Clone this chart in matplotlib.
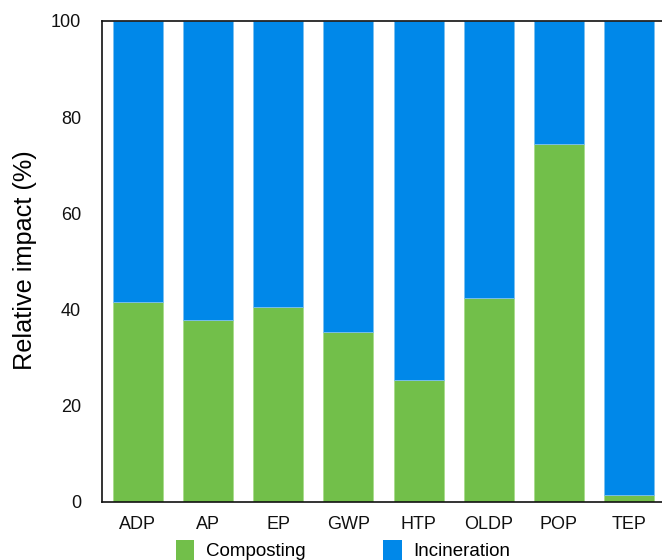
import matplotlib
matplotlib.use("Agg")
import matplotlib.pyplot as plt
from matplotlib.patches import Patch

categories = ["ADP", "AP", "EP", "GWP", "HTP", "OLDP", "POP", "TEP"]
composting = [41.6, 37.8, 40.6, 35.4, 25.4, 42.5, 74.4, 1.5]
incineration = [100 - c for c in composting]
yticks = [0, 20, 40, 60, 80, 100]

green = "#72bf4a"
blue = "#0088e9"

plt.rcParams['font.family'] = ['Liberation Sans', 'DejaVu Sans']

fig = plt.figure(figsize=(6.62, 5.60), dpi=100)
ax = fig.add_axes([102/662, 58/560, 563/662, 481/560])

x = list(range(len(categories)))
ax.bar(x, composting, width=0.71, color=green, edgecolor="#a8dc8c", linewidth=0.6)
ax.bar(x, incineration, bottom=composting, width=0.71, color=blue, edgecolor="#7cc0f0", linewidth=0.6)

ax.set_xlim(-0.51, 7.51)
ax.set_ylim(0, 100)
ax.set_yticks(yticks)
ax.set_xticks(x)
ax.set_xticklabels(categories)
ax.tick_params(axis='both', length=0, labelsize=13, colors="#111111")
ax.tick_params(axis='y', pad=15)
ax.tick_params(axis='x', pad=10)
ax.set_ylabel("Relative impact (%)", fontsize=18.2)
ax.yaxis.set_label_coords(-0.1155, 0.503)
for s in ["left", "bottom", "top"]:
    ax.spines[s].set_linewidth(1.2)
    ax.spines[s].set_color("#111111")
ax.spines["right"].set_visible(False)

handles = [Patch(facecolor=green, edgecolor="none"), Patch(facecolor=blue, edgecolor="none")]
fig.legend(handles, ["Composting", "Incineration"], loc="center", bbox_to_anchor=(343/662, 10/560),
           ncol=2, frameon=False, fontsize=13.5, handlelength=1.0, handleheight=1.3,
           handletextpad=0.64, columnspacing=4.1)

fig.savefig("out.png", dpi=100)
